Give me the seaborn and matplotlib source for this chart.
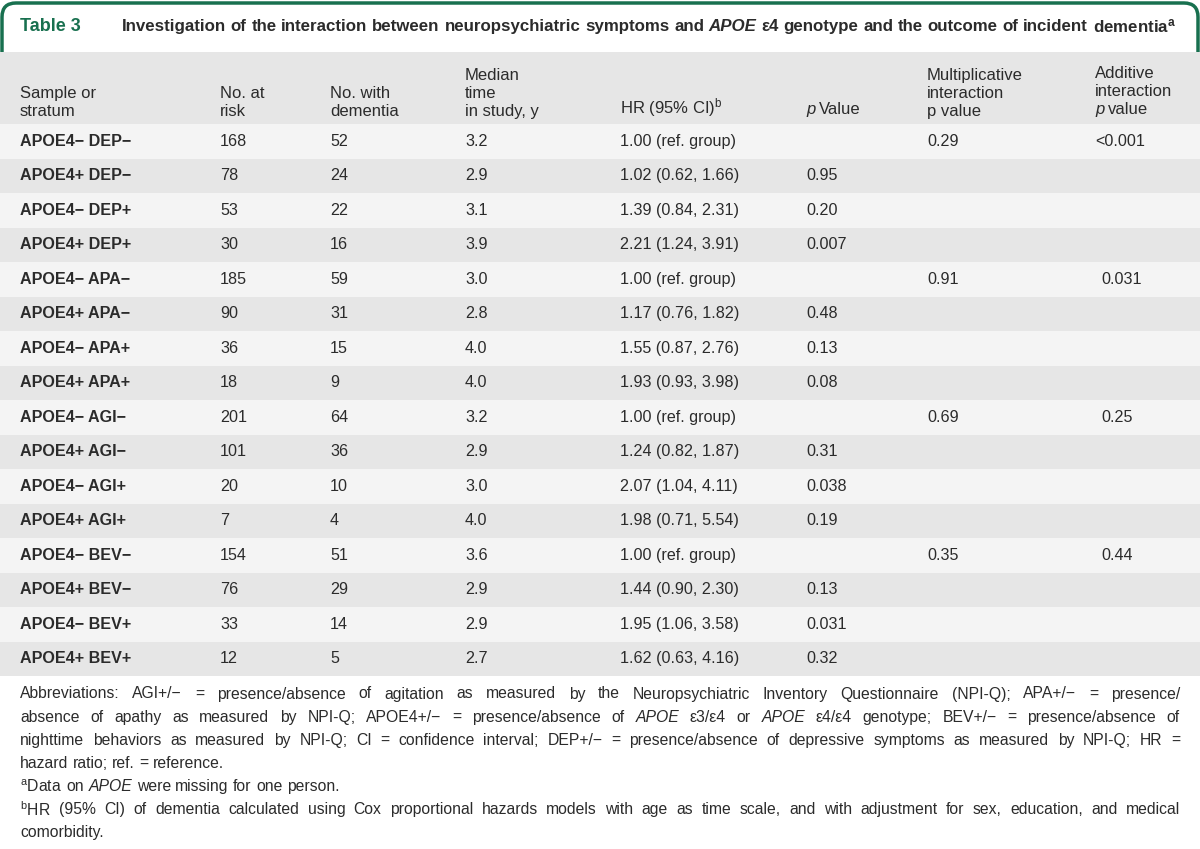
# Table 3: APOE e4 x neuropsychiatric symptoms, incident dementia
import numpy as np
import pandas as pd
import seaborn as sns
import matplotlib.pyplot as plt
from matplotlib.colors import ListedColormap
from matplotlib.patches import FancyBboxPatch, Rectangle

# data
strata = ["APOE4− DEP−", "APOE4+ DEP−", "APOE4− DEP+", "APOE4+ DEP+",
          "APOE4− APA−", "APOE4+ APA−", "APOE4− APA+", "APOE4+ APA+",
          "APOE4− AGI−", "APOE4+ AGI−", "APOE4− AGI+", "APOE4+ AGI+",
          "APOE4− BEV−", "APOE4+ BEV−", "APOE4− BEV+", "APOE4+ BEV+"]
n_risk = [168, 78, 53, 30, 185, 90, 36, 18, 201, 101, 20, 7, 154, 76, 33, 12]
n_dementia = [52, 24, 22, 16, 59, 31, 15, 9, 64, 36, 10, 4, 51, 29, 14, 5]
median_time = [3.2, 2.9, 3.1, 3.9, 3.0, 2.8, 4.0, 4.0, 3.2, 2.9, 3.0, 4.0, 3.6, 2.9, 2.9, 2.7]
hr = [1.00, 1.02, 1.39, 2.21, 1.00, 1.17, 1.55, 1.93, 1.00, 1.24, 2.07, 1.98, 1.00, 1.44, 1.95, 1.62]
ci_low = [None, 0.62, 0.84, 1.24, None, 0.76, 0.87, 0.93, None, 0.82, 1.04, 0.71, None, 0.90, 1.06, 0.63]
ci_high = [None, 1.66, 2.31, 3.91, None, 1.82, 2.76, 3.98, None, 1.87, 4.11, 5.54, None, 2.30, 3.58, 4.16]
p_value = ["", "0.95", "0.20", "0.007", "", "0.48", "0.13", "0.08",
           "", "0.31", "0.038", "0.19", "", "0.13", "0.031", "0.32"]
mult_p = ["0.29", "", "", "", "0.91", "", "", "", "0.69", "", "", "", "0.35", "", "", ""]
add_p = ["<0.001", "", "", "", "0.031", "", "", "", "0.25", "", "", "", "0.44", "", "", ""]

headers = ["Sample or\nstratum", "No. at\nrisk", "No. with\ndementia", "Median\ntime\nin study, y",
           r"HR (95% CI)$^{\mathrm{b}}$", "*p Value", "Multiplicative\ninteraction\np value",
           "Additive\ninteraction\n*p value"]
col_x = [20, 220, 330, 465, 620, 806, 927, 1095]

footnote_lines = [
    "Abbreviations: AGI+/− = presence/absence of agitation as measured by the Neuropsychiatric Inventory Questionnaire (NPI-Q); APA+/− = presence/",
    "absence of apathy as measured by NPI-Q; APOE4+/− = presence/absence of *APOE ε3/ε4 or *APOE ε4/ε4 genotype; BEV+/− = presence/absence of",
    "nighttime behaviors as measured by NPI-Q; CI = confidence interval; DEP+/− = presence/absence of depressive symptoms as measured by NPI-Q; HR =",
    "hazard ratio; ref. = reference.",
    r"$^{\mathrm{a}}$Data on *APOE were missing for one person.",
    r"$^{\mathrm{b}}$HR (95% CI) of dementia calculated using Cox proportional hazards models with age as time scale, and with adjustment for sex, education, and medical",
    "comorbidity.",
]
footnote_justify = [True, True, True, False, False, True, False]

df = pd.DataFrame({"stratum": strata, "n_risk": n_risk, "n_dem": n_dementia,
                   "median": median_time, "hr": hr, "lo": ci_low, "hi": ci_high,
                   "p": p_value, "mult": mult_p, "add": add_p})
df["hr_txt"] = [f"{h:.2f} (ref. group)" if pd.isna(l) else f"{h:.2f} ({l:.2f}, {u:.2f})"
                for h, l, u in zip(df.hr, df.lo, df.hi)]

sns.set_theme(style="white")
plt.rcParams["font.family"] = ["Liberation Sans", "DejaVu Sans"]
plt.rcParams["mathtext.fontset"] = "custom"
plt.rcParams["mathtext.rm"] = "Liberation Sans"
plt.rcParams["mathtext.it"] = "Liberation Sans:italic"
plt.rcParams["mathtext.bf"] = "Liberation Sans:bold"

GREEN = "#18704f"
TXT = "#2b2b2b"
GREY = "#e6e6e6"
LIGHT = "#f4f4f4"
W, H = 1200, 849
BODY = 11.6
HEAD = 12

fig = plt.figure(figsize=(12, 8.49), dpi=100)
fig.patch.set_facecolor("white")
base = fig.add_axes([0, 0, 1, 1])
base.set_xlim(0, W)
base.set_ylim(H, 0)
base.axis("off")
renderer = fig.canvas.get_renderer()


def place_words(ax, line, x0, y, size, x1=None, **kw):
    # words starting with * are italic; justify between x0 and x1 if given
    words = line.split(" ")
    texts = []
    for w in words:
        style = "normal"
        if w.startswith("*"):
            style, w = "italic", w[1:]
        texts.append(ax.text(x0, y, w, fontsize=size, style=style, va="center",
                             ha="left", color=TXT, **kw))
    widths = [t.get_window_extent(renderer).width for t in texts]
    space = 0.28 * size * 100 / 72
    if x1 is not None and len(texts) > 1:
        gap = max((x1 - x0 - sum(widths)) / (len(texts) - 1), 0.15 * size)
    else:
        gap = space
    x = x0
    for t, wd in zip(texts, widths):
        t.set_x(x)
        x += wd + gap


# title box
base.add_patch(FancyBboxPatch((2, 3), W - 4, 90, boxstyle="round,pad=0,rounding_size=14",
                              facecolor="white", edgecolor=GREEN, linewidth=2.5))
base.text(20, 26, "Table 3", fontsize=13, fontweight="bold", color=GREEN, va="center")
place_words(base, "Investigation of the interaction between neuropsychiatric symptoms and *APOE ε4 "
            r"genotype and the outcome of incident dementia$^{\mathbf{a}}$",
            122, 26, 12.2, fontweight="bold")

# header band
base.add_patch(Rectangle((0, 52), W, 72, facecolor=GREY, edgecolor="none", zorder=3))
for x, h in zip(col_x, headers):
    if "*" in h:
        lines = h.split("\n")
        top = "\n".join(lines[:-1])
        if top:
            base.text(x, 99, top, fontsize=HEAD, color=TXT, va="bottom", linespacing=1.25, zorder=4)
        last = lines[-1][1:]
        word, rest = last.split(" ", 1)
        t = base.text(x, 109, word, fontsize=HEAD, style="italic", color=TXT, va="center", zorder=4)
        wd = t.get_window_extent(renderer).width
        base.text(x + wd + 4, 109, rest, fontsize=HEAD, color=TXT, va="center", zorder=4)
    else:
        base.text(x, 119, h, fontsize=HEAD, color=TXT, va="bottom", linespacing=1.25, zorder=4)

# body rows: stripes through seaborn heatmap
tab = fig.add_axes([0, (H - 676) / H, 1, 552 / H])
stripes = (np.arange(len(df)) % 2).reshape(-1, 1)
sns.heatmap(stripes, cmap=ListedColormap([LIGHT, GREY]), cbar=False, ax=tab,
            xticklabels=False, yticklabels=False, linewidths=0)
tab.set_xlim(0, 1)
cols = ["stratum", "n_risk", "n_dem", "median", "hr_txt", "p", "mult", "add"]
for i, row in df.iterrows():
    for j, (c, x) in enumerate(zip(cols, col_x)):
        val = row[c]
        if c == "median":
            val = f"{val:.1f}"
        val = str(val)
        if c == "add" and val and not val.startswith("<"):
            x += 6
        tab.text(x / W, i + 0.5, val, fontsize=BODY, color=TXT, va="center", ha="left",
                 fontweight="bold" if j == 0 else "normal")

# footnotes
for k, (line, just) in enumerate(zip(footnote_lines, footnote_justify)):
    place_words(base, line, 20, 694 + k * 23.1, 11.3, x1=1180 if just else None)

fig.savefig("out.png", dpi=100, facecolor="white")
